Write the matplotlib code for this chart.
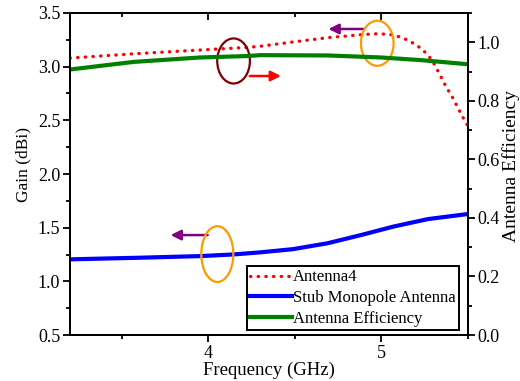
import matplotlib.pyplot as plt
from matplotlib.patches import Ellipse
from matplotlib.ticker import MultipleLocator

plt.rcParams['font.family'] = ['Liberation Serif', 'DejaVu Serif']
plt.rcParams['font.size'] = 13

# Antenna4 gain (dBi)
freq_a4 = [3.2, 3.57, 3.95, 4.23, 4.30, 4.49, 4.69, 4.90, 4.98, 5.05, 5.09, 5.13, 5.17,
           5.20, 5.23, 5.26, 5.29, 5.31, 5.33, 5.35, 5.37, 5.39, 5.41, 5.43, 5.45, 5.47, 5.50]
gain_a4 = [3.08, 3.12, 3.155, 3.18, 3.19, 3.23, 3.27, 3.30, 3.307, 3.30, 3.286, 3.264, 3.233,
           3.202, 3.171, 3.124, 3.068, 3.015, 2.953, 2.891, 2.829, 2.773, 2.72, 2.658, 2.596, 2.534, 2.45]

# Stub monopole gain (dBi)
freq_stub = [3.2, 3.6, 3.95, 4.14, 4.30, 4.49, 4.69, 4.88, 5.07, 5.27, 5.50]
gain_stub = [1.205, 1.22, 1.235, 1.25, 1.27, 1.30, 1.355, 1.43, 1.51, 1.58, 1.627]

# radiation efficiency
freq_eff = [3.2, 3.57, 3.95, 4.23, 4.30, 4.69, 5.0, 5.23, 5.50]
eff = [0.907, 0.933, 0.948, 0.953, 0.956, 0.955, 0.948, 0.939, 0.925]

fig = plt.figure(figsize=(5.2, 3.81), dpi=100)
ax = fig.add_axes([0.1346, 0.1207, 0.7648, 0.8452])
ax2 = ax.twinx()

l1, = ax.plot(freq_a4, gain_a4, color='red', lw=2.4, dashes=(0.1, 2.2),
              dash_capstyle='round', label='Antenna4', zorder=3)
l2, = ax.plot(freq_stub, gain_stub, color='blue', lw=3, label='Stub Monopole Antenna')
l3, = ax2.plot(freq_eff, eff, color='#008000', lw=3, label='Antenna Efficiency')

ax.set_xlim(3.2, 5.5)
ax.set_ylim(0.5, 3.5)
ax2.set_ylim(0, 1.1)

ax.xaxis.set_major_locator(MultipleLocator(1))
ax.xaxis.set_minor_locator(MultipleLocator(0.5))
ax.yaxis.set_major_locator(MultipleLocator(0.5))
ax.yaxis.set_minor_locator(MultipleLocator(0.25))
ax2.yaxis.set_major_locator(MultipleLocator(0.2))
ax2.yaxis.set_minor_locator(MultipleLocator(0.1))

for a in (ax, ax2):
    for s in a.spines.values():
        s.set_linewidth(1.4)
ax.tick_params(which='major', direction='out', length=5, width=1.3, pad=2)
ax.tick_params(which='minor', direction='out', length=3, width=1.3)
ax2.tick_params(which='major', direction='out', length=5, width=1.3, pad=2)
ax2.tick_params(which='minor', direction='out', length=3, width=1.3)

# inward ticks along the top edge
top = ax.secondary_xaxis('top')
top.xaxis.set_major_locator(MultipleLocator(1))
top.xaxis.set_minor_locator(MultipleLocator(0.5))
top.tick_params(which='major', direction='in', length=5, width=1.3, labeltop=False)
top.tick_params(which='minor', direction='in', length=3, width=1.3)
top.spines['top'].set_linewidth(1.4)

ax.set_xlabel('Frequency (GHz)', labelpad=0, fontsize=13.5)
ax.set_ylabel('Gain (dBi)', fontsize=12.5)
ax.yaxis.set_label_coords(-0.098, 0.53)
ax2.set_ylabel('Antenna Efficiency', fontsize=14)
ax2.yaxis.set_label_coords(1.087, 0.525)

# markers pointing each curve to its axis
ax.add_patch(Ellipse((4.146, 3.053), 0.189, 0.42, fill=False, ec='#800000', lw=1.6, zorder=4))
ax.add_patch(Ellipse((4.977, 3.218), 0.189, 0.42, fill=False, ec='#FF9900', lw=1.6, zorder=4))
ax.add_patch(Ellipse((4.052, 1.254), 0.185, 0.52, fill=False, ec='#FF9900', lw=1.6, zorder=4))
arrow = dict(arrowstyle='-|>', lw=1.8, mutation_scale=15, shrinkA=0, shrinkB=0)
ax.annotate('', xy=(4.42, 2.913), xytext=(4.24, 2.913), arrowprops=dict(arrow, color='red'))
ax.annotate('', xy=(4.695, 3.351), xytext=(4.897, 3.351), arrowprops=dict(arrow, color='#800080'))
ax.annotate('', xy=(3.782, 1.431), xytext=(3.996, 1.431), arrowprops=dict(arrow, color='#800080'))

leg = ax2.legend(handles=[l1, l2, l3], loc='lower right', bbox_to_anchor=(0.978, 0.0155),
                 fancybox=False, edgecolor='black', framealpha=1, handlelength=2.5,
                 handletextpad=0.05, labelspacing=0.28, borderpad=0.2, borderaxespad=0,
                 fontsize=12)
leg.get_frame().set_linewidth(1.4)

fig.savefig('out.png', dpi=100)
